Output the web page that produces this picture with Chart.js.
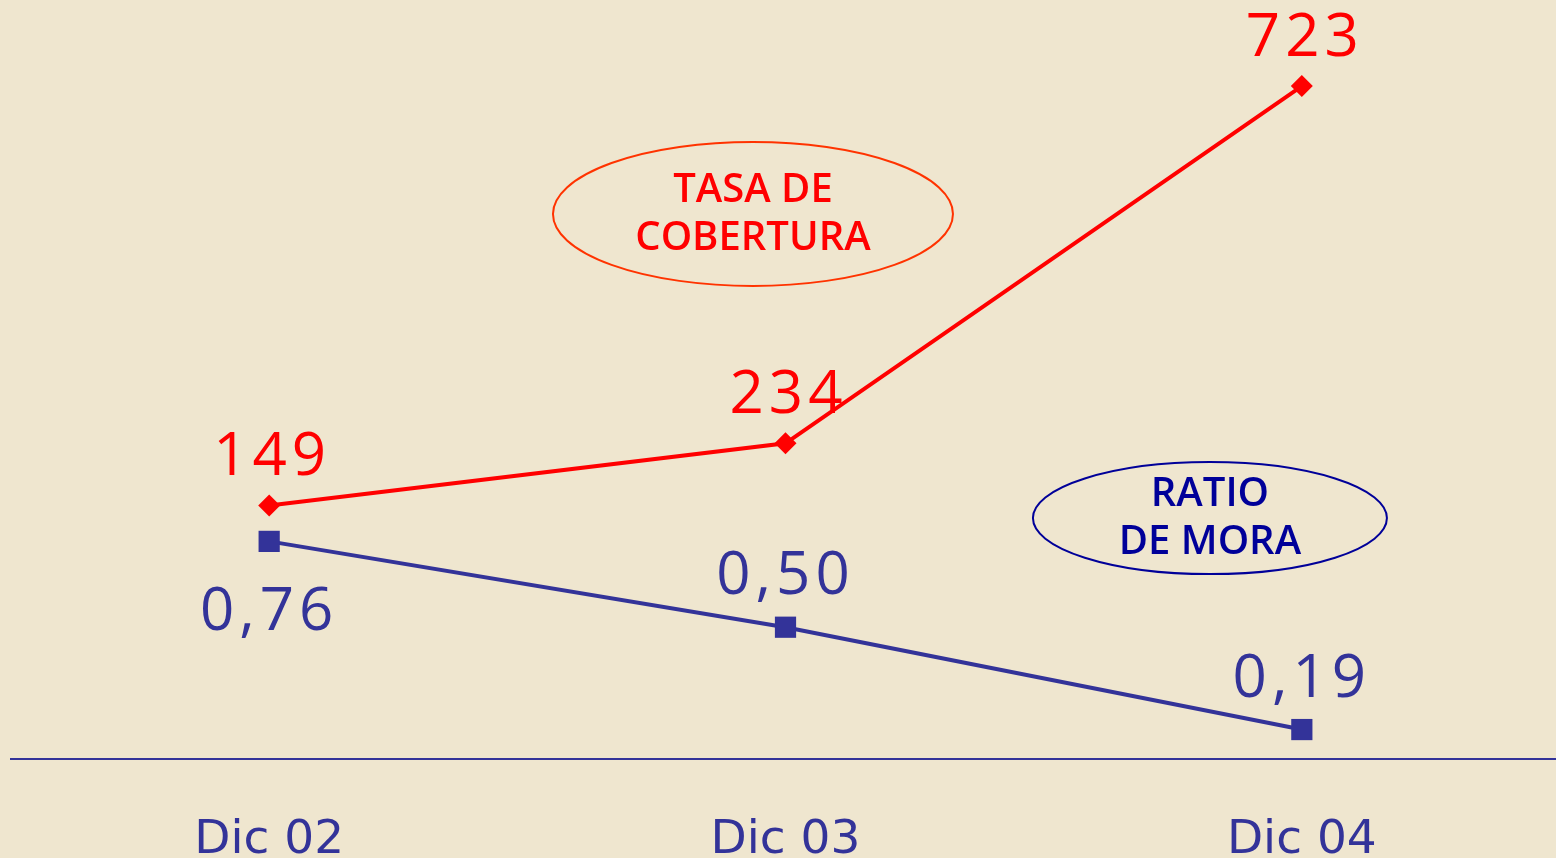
<!DOCTYPE html>
<html>
<head>
<meta charset="utf-8">
<script src="https://cdn.jsdelivr.net/npm/chart.js@4"></script>
<style>
  html, body { margin: 0; padding: 0; background: #EFE6CF; overflow: hidden; }
  #wrap { width: 1560px; height: 923px; }
</style>
</head>
<body>
<div id="wrap"><canvas id="chart"></canvas></div>
<script>
// Datos

const periods = ["Dic 02", "Dic 03", "Dic 04"];
const coverageRate = [149, 234, 723];
const defaultRatio = [0.76, 0.5, 0.19];
const ratioLabelSide = ["below", "above", "above"];

// Colores

const RED = "#FF0000";
const BLUE = "#333399";
const NAVY = "#000099";
const FONT = "'Open Sans', 'DejaVu Sans', sans-serif";

// Etiquetas de valores y elipses

const valueLabels = {
  id: "valueLabels",
  afterDatasetsDraw(chart) {
    const ctx = chart.ctx;
    ctx.save();
    ctx.font = `60px ${FONT}`;
    ctx.letterSpacing = "5px";
    ctx.textAlign = "center";
    ctx.textBaseline = "alphabetic";

    chart.getDatasetMeta(0).data.forEach((pt, i) => {
      ctx.fillStyle = RED;
      ctx.fillText(String(coverageRate[i]), pt.x + 3, pt.y - 30);
    });

    chart.getDatasetMeta(1).data.forEach((pt, i) => {
      ctx.fillStyle = BLUE;
      let text = defaultRatio[i].toFixed(2).replace(".", ",");
      let y = ratioLabelSide[i] === "below" ? pt.y + 89 : pt.y - 33;
      ctx.fillText(text, pt.x, y);
    });
    ctx.restore();
  },
};

const ellipses = [
  { lines: ["TASA DE", "COBERTURA"], fx: 0.479, fy: 0.282, rx: 200, ry: 72, stroke: "#FF3300", color: RED },
  { lines: ["RATIO", "DE MORA"], fx: 0.774, fy: 0.683, rx: 177, ry: 56, stroke: NAVY, color: NAVY },
];

const ellipseNotes = {
  id: "ellipseNotes",
  afterDraw(chart) {
    const ctx = chart.ctx;
    const area = chart.chartArea;
    ctx.save();
    ellipses.forEach((e) => {
      let cx = area.left + (area.right - area.left) * e.fx;
      let cy = area.top + (area.bottom - area.top) * e.fy;
      ctx.beginPath();
      ctx.ellipse(cx, cy, e.rx, e.ry, 0, 0, Math.PI * 2);
      ctx.strokeStyle = e.stroke;
      ctx.lineWidth = 2;
      ctx.stroke();

      ctx.fillStyle = e.color;
      ctx.font = `600 40px ${FONT}`;
      ctx.textAlign = "center";
      ctx.textBaseline = "alphabetic";
      ctx.fillText(e.lines[0], cx, cy - 12);
      ctx.fillText(e.lines[1], cx, cy + 36);
    });
    ctx.restore();
  },
};

// Grafico

new Chart(document.getElementById("chart"), {
  type: "line",
  data: {
    labels: periods,
    datasets: [
      {
        label: "Tasa de cobertura",
        data: coverageRate,
        borderColor: RED,
        backgroundColor: RED,
        borderWidth: 4,
        pointStyle: "rectRot",
        pointRadius: 11,
        pointBorderWidth: 0,
        yAxisID: "y",
        tension: 0,
        clip: false,
      },
      {
        label: "Ratio de mora",
        data: defaultRatio,
        borderColor: BLUE,
        backgroundColor: BLUE,
        borderWidth: 4,
        pointStyle: "rect",
        pointRadius: 15,
        pointBorderWidth: 0,
        yAxisID: "y1",
        tension: 0,
        clip: false,
      },
    ],
  },
  options: {
    responsive: true,
    maintainAspectRatio: false,
    animation: false,
    layout: { autoPadding: false, padding: { left: 11, right: 0, top: 0, bottom: 0 } },
    plugins: {
      legend: { display: false },
      tooltip: { enabled: false },
    },
    scales: {
      x: {
        offset: true,
        grid: { display: false, drawTicks: false, offset: true },
        border: { color: BLUE, width: 2 },
        ticks: {
          color: BLUE,
          padding: 54,
          font: { family: "'DejaVu Sans', sans-serif", size: 47 },
        },
      },
      y: { display: false, min: -197.6, max: 840.8 },
      y1: { display: false, min: 0.102, max: 2.4 },
    },
  },
  plugins: [valueLabels, ellipseNotes],
});
</script>
</body>
</html>
